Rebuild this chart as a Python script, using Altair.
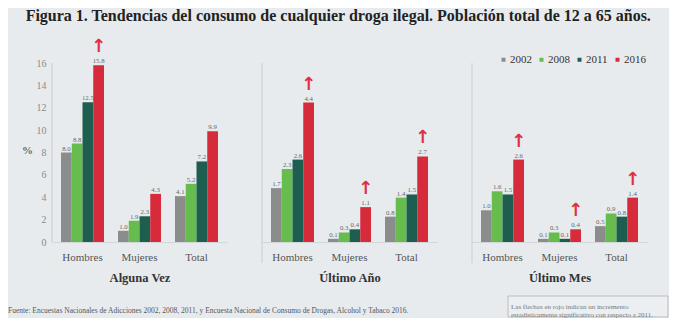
import altair as alt
import pandas as pd

years = ["2002", "2008", "2011", "2016"]
groups = ["Hombres", "Mujeres", "Total"]
colors = ["#8b8d8c", "#66bd4d", "#1d5e50", "#d52b3b"]

av_hombres = [8.0, 8.8, 12.5, 15.8]
av_mujeres = [1.0, 1.9, 2.3, 4.3]
av_total = [4.1, 5.2, 7.2, 9.9]
ua_hombres = [1.7, 2.3, 2.6, 4.4]
ua_mujeres = [0.1, 0.3, 0.4, 1.1]
ua_total = [0.8, 1.4, 1.5, 2.7]
um_hombres = [1.0, 1.6, 1.5, 2.6]
um_mujeres = [0.1, 0.3, 0.1, 0.4]
um_total = [0.5, 0.9, 0.8, 1.4]

# 2016 increase significant vs 2011 (red arrow), per group
av_arrows = [True, False, False]
ua_arrows = [True, True, True]
um_arrows = [True, True, True]

panel_titles = ["Alguna Vez", "Último Año", "Último Mes"]
y_ticks = [0, 2, 4, 6, 8, 10, 12, 14, 16]

title_text = "Figura 1. Tendencias del consumo de cualquier droga ilegal. Población total de 12 a 65 años."
footer_text = ("Fuente: Encuestas Nacionales de Adicciones 2002, 2008, 2011, y Encuesta Nacional "
               "de Consumo de Drogas, Alcohol y Tabaco 2016.")
note_text = "Las flechas en rojo indican un incremento\nestadísticamente significativo con respecto a 2011."

SERIF = "Liberation Serif"
W, H = 175, 212


def make_df(series, arrows):
    rows = []
    for g, vals, arr in zip(groups, series, arrows):
        for yr, v in zip(years, vals):
            rows.append({"grupo": g, "anio": yr, "valor": v,
                         "flecha": bool(arr and yr == "2016")})
    return pd.DataFrame(rows)


def panel(df, title, ymax, first):
    if first:
        yaxis = alt.Axis(values=y_ticks, domain=False, ticks=False, grid=False,
                         labelOverlap=False,
                         labelFont=SERIF, labelFontSize=10, labelColor="#8a8a8a",
                         labelPadding=6, title="%", titleAngle=0, titleX=-25, titleY=120,
                         titleFont=SERIF, titleFontSize=11, titleColor="#666",
                         titleAlign="center", titleBaseline="middle")
    else:
        yaxis = None
    yscale = alt.Scale(domain=[0, ymax], nice=False, zero=True)
    x = alt.X("grupo:N", sort=groups,
              scale=alt.Scale(paddingInner=0.2456, paddingOuter=0.158),
              axis=alt.Axis(title=title, labelAngle=0, ticks=False, domain=True,
                            domainColor="#d3d6d9", labelFont=SERIF, labelFontSize=11,
                            labelColor="#555", labelPadding=9, titleFont=SERIF,
                            titleFontSize=12.5, titleFontWeight="bold", titleColor="#333",
                            titlePadding=9))
    xo = alt.XOffset("anio:N", sort=years, scale=alt.Scale(paddingInner=0, paddingOuter=0))
    y = alt.Y("valor:Q", scale=yscale, axis=yaxis)
    base = alt.Chart(df).encode(x=x, xOffset=xo, y=y)
    bars = base.mark_bar().encode(
        color=alt.Color("anio:N", sort=years,
                        scale=alt.Scale(domain=years, range=colors),
                        legend=alt.Legend(orient="none", legendX=446, legendY=24,
                                          direction="horizontal", title=None,
                                          symbolType="square", symbolSize=16,
                                          symbolStrokeWidth=0, labelFont=SERIF,
                                          labelFontSize=11, labelColor="#333",
                                          labelOffset=1, columnPadding=4)))
    labels = base.mark_text(baseline="bottom", dy=-1, font=SERIF, fontSize=6.8,
                            color="#666").encode(text=alt.Text("valor:Q", format=".1f"))
    arrows = base.transform_filter("datum.flecha").mark_text(
        text="↑", baseline="bottom", dy=-9, font="DejaVu Sans", fontSize=18,
        fontWeight="bold", color="#e0303f")
    layers = [bars, labels, arrows]
    if first:
        ax_df = pd.DataFrame({"valor": [0], "tope": [16]})
        axis_line = alt.Chart(ax_df).mark_rule(color="#c9ccd0", strokeWidth=1).encode(
            x=alt.value(0), y=alt.Y("valor:Q", scale=yscale, axis=yaxis), y2="tope:Q")
        foot = alt.Chart(pd.DataFrame({"t": [footer_text]})).mark_text(
            align="left", baseline="middle", font=SERIF, fontSize=7.5, color="#555"
        ).encode(x=alt.value(-44), y=alt.value(281), text="t:N")
        layers = layers + [axis_line, foot]
    else:
        sep = alt.Chart(pd.DataFrame({"a": [0]})).mark_rule(
            color="#c9ccd0", strokeWidth=1).encode(
            x=alt.value(0), y=alt.value(33), y2=alt.value(233))
        layers = [sep] + layers
    return alt.layer(*layers).properties(width=W, height=H)


p1 = panel(make_df([av_hombres, av_mujeres, av_total], av_arrows), panel_titles[0], 212 / 11.1875, True)
p2 = panel(make_df([ua_hombres, ua_mujeres, ua_total], ua_arrows), panel_titles[1], 212 / 31.7, False)
p3base = panel(make_df([um_hombres, um_mujeres, um_total], um_arrows), panel_titles[2], 212 / 31.7, False)

box = alt.Chart(pd.DataFrame({"a": [0]})).mark_rect(
    fill="#eceff1", stroke="#b9bcbf", strokeWidth=1).encode(
    x=alt.value(36), x2=alt.value(196), y=alt.value(266), y2=alt.value(287))
note = alt.Chart(pd.DataFrame({"t": [note_text]})).mark_text(
    align="left", baseline="middle", font=SERIF, fontSize=7, color="#777",
    lineBreak="\n", lineHeight=8.5).encode(x=alt.value(39), y=alt.value(276.5), text="t:N")
p3 = alt.layer(p3base, box, note)

chart = alt.hconcat(p1, p2, p3, spacing=35, bounds="flush").properties(
    title=alt.TitleParams(title_text, font=SERIF, fontSize=16, fontWeight="bold",
                          color="#222", anchor="middle", offset=6),
    padding={"left": 0, "top": 0, "right": 0, "bottom": 0},
    background="#e8ebee",
).configure_view(strokeWidth=0).resolve_scale(y="independent")

chart.save("out.html", embed_options={"renderer": "svg", "actions": False})
